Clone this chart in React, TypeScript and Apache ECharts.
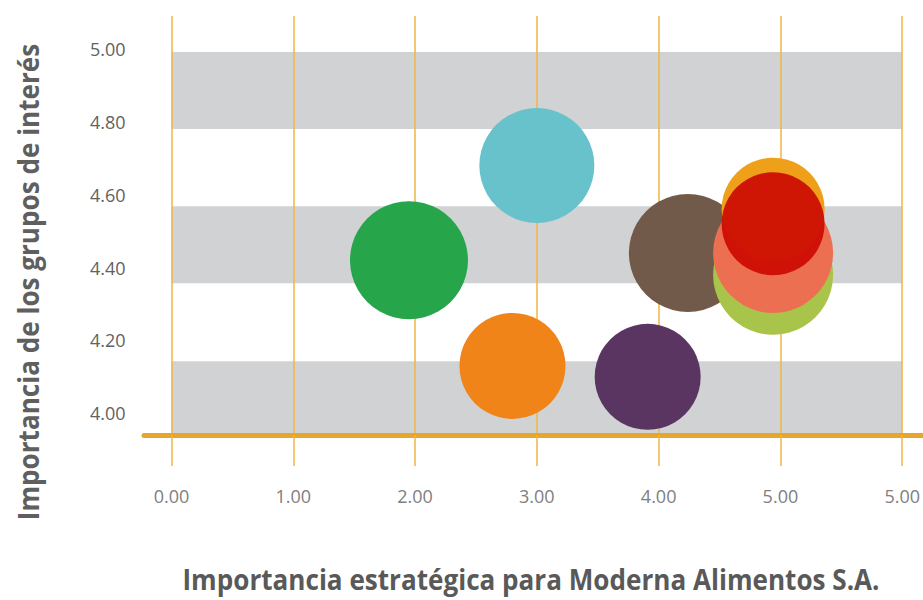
import React, { useEffect, useRef } from "react";
import * as echarts from "echarts";

// ---- data ----
const xTickValues = [0, 1, 2, 3, 4, 5, 6];
const xTickLabels = ["0.00", "1.00", "2.00", "3.00", "4.00", "5.00", "5.00"];
const yTickValues = [4.0, 4.2, 4.4, 4.6, 4.8, 5.0];
const yTickLabels = ["4.00", "4.20", "4.40", "4.60", "4.80", "5.00"];
const yMin = 3.9405;
const yMax = 5.09;
const bandEdges = [yMin, 4.143, 4.357, 4.568, 4.78, 4.991, yMax];

const xValues = [1.95, 3.0, 2.8, 3.91, 4.24, 4.94, 4.94, 4.94, 4.94];
const yValues = [4.42, 4.68, 4.13, 4.1, 4.44, 4.38, 4.44, 4.56, 4.52];
const sizes = [118, 115, 106, 106, 118, 120, 120, 103, 103];
const colors = [
  "#27a54b",
  "#67c2cb",
  "#f08418",
  "#5a3562",
  "#725a4a",
  "#a9c44a",
  "#ec6f52",
  "#efa01a",
  "rgba(205,12,2,0.94)",
];

const xTitle = "Importancia estratégica para Moderna Alimentos S.A.";
const yTitle = "Importancia de los grupos de interés";

const gridLineColor = "#f0b445";
const axisColor = "#e8a52c";
const titleFont = "'Open Sans', sans-serif";

export default function App() {
  const ref = useRef<HTMLDivElement>(null);
  useEffect(() => {
    document.body.style.margin = "0";
    const chart = echarts.init(ref.current!, null, { renderer: "svg" });
    const data = xValues.map((x, i) => ({
      value: [x, yValues[i], sizes[i]],
      itemStyle: { color: colors[i], opacity: 1 },
    }));
    chart.setOption({
      animation: false,
      grid: [
        { left: 171.5, right: 16.5, top: 16, bottom: 165 },
        { left: 144, right: 0, top: 16, bottom: 165 },
      ],
      xAxis: [
        {
          type: "value",
          gridIndex: 0,
          min: 0,
          max: 6,
          z: 1,
          axisLine: { show: false },
          axisTick: {
            show: true,
            length: 31,
            customValues: xTickValues,
            lineStyle: { color: gridLineColor, width: 1.5 },
          },
          splitLine: { show: true, lineStyle: { color: gridLineColor, width: 1.5 } },
          axisLabel: {
            customValues: xTickValues,
            formatter: (v: number) => xTickLabels[xTickValues.indexOf(Math.round(v))],
            margin: 52,
            fontSize: 18,
            fontFamily: "'Open Sans', sans-serif",
            color: "#808080",
          },
        },
        {
          type: "value",
          gridIndex: 1,
          min: 0,
          max: 1,
          z: 1,
          axisLine: { show: true, lineStyle: { color: axisColor, width: 5 } },
          axisTick: { show: false },
          axisLabel: { show: false },
          splitLine: { show: false },
        },
      ],
      yAxis: [
        {
          type: "value",
          gridIndex: 0,
          min: yMin,
          max: yMax,
          z: 0,
          axisLine: { show: false },
          axisTick: { show: false, customValues: bandEdges },
          splitLine: { show: false },
          splitArea: {
            show: true,
            areaStyle: { color: ["#d1d2d4", "rgba(255,255,255,0)"] },
          },
          axisLabel: {
            customValues: yTickValues,
            formatter: (v: number) => {
              const i = yTickValues.findIndex((t) => Math.abs(t - v) < 1e-6);
              return i >= 0 ? yTickLabels[i] : "";
            },
            margin: 46,
            fontSize: 18,
            fontFamily: "'Open Sans', sans-serif",
            color: "#626262",
          },
        },
        { type: "value", gridIndex: 1, show: false },
      ],
      graphic: [
        {
          type: "text",
          x: 531,
          y: 579,
          scaleX: 0.9,
          style: {
            text: xTitle,
            font: `bold 29px ${titleFont}`,
            fill: "#595959",
            align: "center",
            verticalAlign: "middle",
          },
        },
        {
          type: "text",
          x: 28,
          y: 282,
          rotation: Math.PI / 2,
          scaleX: 0.9,
          style: {
            text: yTitle,
            font: `bold 29px ${titleFont}`,
            fill: "#5f5f5f",
            align: "center",
            verticalAlign: "middle",
          },
        },
      ],
      series: [
        {
          type: "scatter",
          xAxisIndex: 0,
          yAxisIndex: 0,
          data,
          symbolSize: (val: number[]) => val[2],
          emphasis: { disabled: true },
          silent: true,
          z: 2,
        },
      ],
    });
    return () => chart.dispose();
  }, []);
  return <div ref={ref} style={{ width: 923, height: 600 }} />;
}
